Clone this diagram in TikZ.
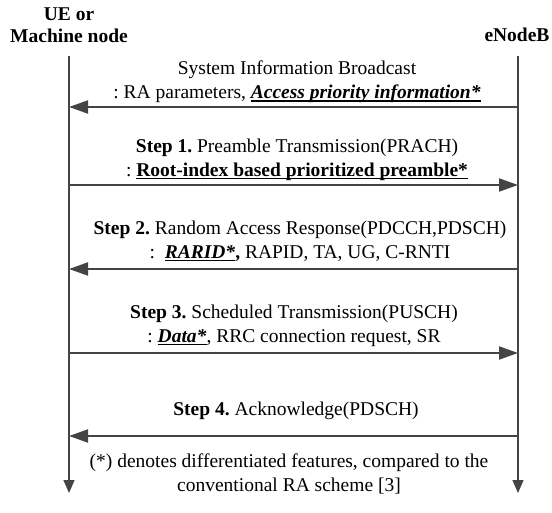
\documentclass[tikz,border=0pt]{standalone}
\usepackage{fontspec}
\setmainfont{Liberation Serif}
\usetikzlibrary{arrows.meta}
\definecolor{ln}{HTML}{444444}
\newcommand\ulbox[1]{\setbox0\hbox{#1}\rlap{\rule[-2.8bp]{\wd0}{1.5bp}}\box0}
\frenchspacing
\begin{document}
\begin{tikzpicture}[x=1bp,y=-1bp,
  lifeline/.style={draw=ln, line width=1.4bp, -{Triangle[length=13bp,width=11bp]}},
  msg/.style={draw=ln, line width=2bp, -{Triangle[length=19bp,width=13bp]}},
  lbl/.style={align=center, inner sep=0pt, anchor=center, font=\fontsize{19.5bp}{24bp}\selectfont},
  hdr/.style={align=center, inner sep=0pt, anchor=center, font=\fontsize{19.5bp}{22bp}\selectfont\bfseries}]
\useasboundingbox (0,0) rectangle (552,513);

% headers
\node[hdr] (ue) at (69,25) {UE or\\Machine node};
\node[hdr] (enb) at (517,35) {eNodeB};

% lifelines
\coordinate (ueTop) at (69,56);
\coordinate (ueBot) at (69,493);
\coordinate (enbTop) at (518,56);
\coordinate (enbBot) at (518,493);
\draw[lifeline] (ueTop) -- (ueBot);
\draw[lifeline] (enbTop) -- (enbBot);

% message anchor points
\coordinate (u0) at (69,107);  \coordinate (e0) at (518,107);
\coordinate (u1) at (69,185);  \coordinate (e1) at (518,185);
\coordinate (u2) at (69,269);  \coordinate (e2) at (518,269);
\coordinate (u3) at (69,353);  \coordinate (e3) at (518,353);
\coordinate (u4) at (69,436);  \coordinate (e4) at (518,436);

% labels
\node[lbl] (sib) at (297,82) {System Information Broadcast\\: RA parameters, \ulbox{\textbf{\textit{Access priority information*}}}};
\node[lbl] (s1) at (297,160) {\textbf{Step 1.} Preamble Transmission(PRACH)\\: \ulbox{\textbf{Root-index based prioritized preamble*}}};
\node[lbl] (s2) at (300,241) {\textbf{Step 2.} Random Access Response(PDCCH,PDSCH)\\:\ \ \ulbox{\textbf{\textit{RARID*}}}\textbf{,} RAPID, TA, UG, C-RNTI};
\node[lbl] (s3) at (294,326) {\textbf{Step 3.} Scheduled Transmission(PUSCH)\\: \ulbox{\textbf{\textit{Data*}}}, RRC connection request, SR};
\node[lbl] (s4) at (296,411) {\textbf{Step 4.} Acknowledge(PDSCH)};
\node[lbl] (note) at (289,474) {(*) denotes differentiated features, compared to the\\conventional RA scheme [3]};

% messages
\draw[msg] (e0) -- (u0);
\draw[msg] (u1) -- (e1);
\draw[msg] (e2) -- (u2);
\draw[msg] (u3) -- (e3);
\draw[msg] (e4) -- (u4);
\end{tikzpicture}
\end{document}
